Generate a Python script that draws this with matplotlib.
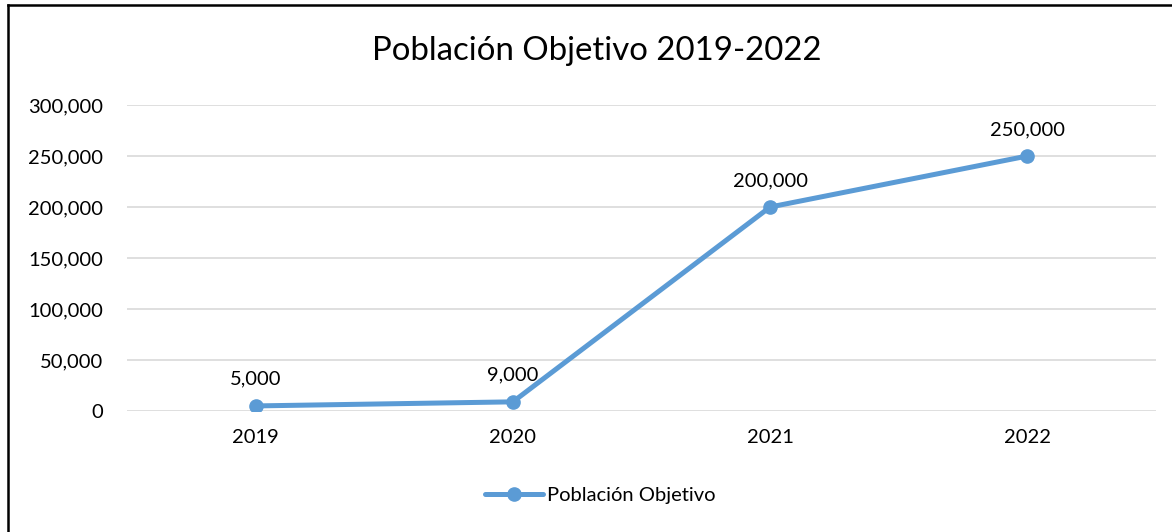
import matplotlib.pyplot as plt
from matplotlib.lines import Line2D
from matplotlib.ticker import FuncFormatter

years = ["2019", "2020", "2021", "2022"]
poblacion = [5000, 9000, 200000, 250000]
labels = ["5,000", "9,000", "200,000", "250,000"]

plt.rcParams['font.family'] = ['Lato', 'DejaVu Sans']
azul = "#5B9BD5"

fig = plt.figure(figsize=(11.72, 5.32), dpi=100)
ax = fig.add_axes([0.1084, 0.2274, 0.8779, 0.5752])

x = range(len(years))
ax.plot(x, poblacion, color=azul, linewidth=3.6, marker='o', markersize=9.5,
        solid_capstyle='round', label="Población Objetivo", zorder=3)

for i, (v, t) in enumerate(zip(poblacion, labels)):
    ax.annotate(t, (i, v), xytext=(0, 13), textcoords='offset points',
                ha='center', va='bottom', fontsize=14.5, color='#000000')

ax.set_xlim(-0.5, len(years) - 0.5)
ax.set_ylim(0, 300000)
ax.set_yticks(range(0, 300001, 50000))
ax.yaxis.set_major_formatter(FuncFormatter(lambda v, p: f"{int(v):,}"))
ax.set_xticks(list(x))
ax.set_xticklabels(years)
ax.tick_params(axis='both', length=0, labelsize=14.5, colors='#000000')
ax.tick_params(axis='y', pad=17)
ax.tick_params(axis='x', pad=13)
ax.grid(axis='y', color='#D9D9D9', linewidth=1.2)
ax.set_axisbelow(True)
for s in ax.spines.values():
    s.set_visible(False)

fig.text(0.509, 0.905, "Población Objetivo 2019-2022", ha='center', va='center', fontsize=23.8)

leg = fig.legend(loc='center', bbox_to_anchor=(0.512, 0.068), frameon=False, fontsize=14.5,
                 handlelength=2.9, handletextpad=0.2)

# frame (only left and top visible)
fig.add_artist(Line2D([0.0068, 0.0068], [0, 0.991], color='black', linewidth=1.8, transform=fig.transFigure))
fig.add_artist(Line2D([0.0068, 1.0], [0.991, 0.991], color='black', linewidth=1.8, transform=fig.transFigure))

fig.savefig("out.png", dpi=100)
